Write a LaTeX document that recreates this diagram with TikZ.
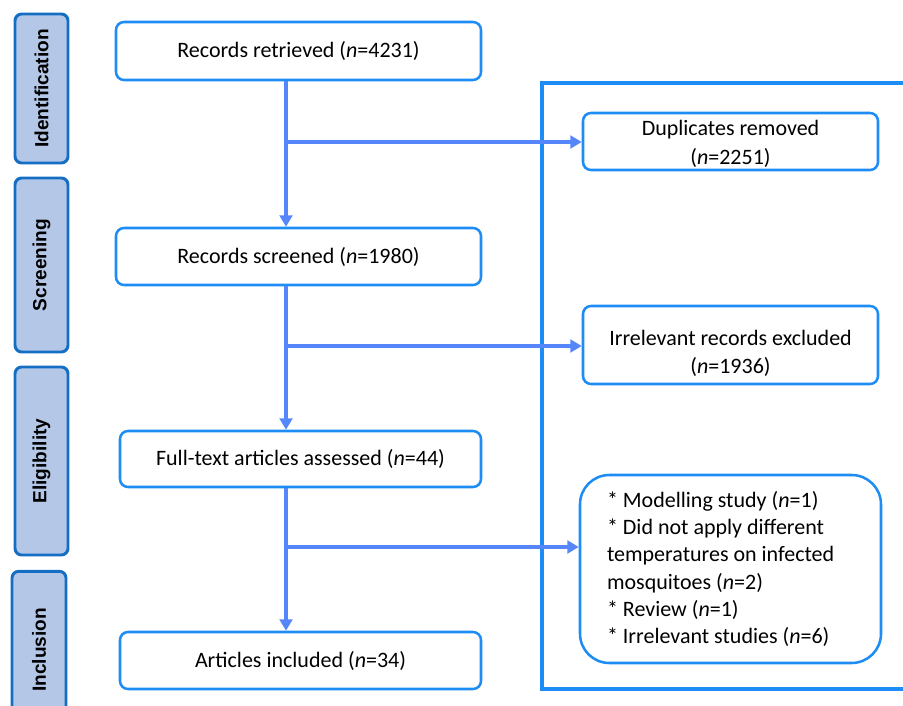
\documentclass[tikz,border=0pt]{standalone}
\usepackage{fontspec}
\setmainfont{Carlito}
\newfontfamily\stagefont{Liberation Sans}
\usetikzlibrary{arrows.meta, positioning}
\definecolor{boxblue}{RGB}{30,140,245}
\definecolor{flowblue}{RGB}{85,135,250}
\definecolor{stageline}{RGB}{20,110,195}
\definecolor{stagefill}{RGB}{180,199,231}

\begin{document}
\begin{tikzpicture}[x=0.75pt, y=-0.75pt,
    >={Triangle[width=9.5pt,length=8.5pt]},
    stagebox/.style={draw=stageline, fill=stagefill, line width=2.2pt,
      rounded corners=5pt, inner sep=0pt, font=\stagefont\bfseries\fontsize{14.3}{16}\selectfont},
    flowbox/.style={draw=boxblue, line width=1.9pt, rounded corners=6pt,
      inner sep=0pt, align=center, font=\fontsize{16.5}{20.5}\selectfont},
    flow/.style={draw=flowblue, line width=2.4pt}]
  \useasboundingbox (0,0) rectangle (903,706);
  \clip (0,0) rectangle (903,706);
  % stages
  \node (ident) at (41.5,88.5) [stagebox, minimum width=39.75pt, minimum height=111.75pt]
    {\rotatebox{90}{Identification}};
  \node (screen) at (41.5,265) [stagebox, minimum width=39.75pt, minimum height=130.5pt]
    {\rotatebox{90}{Screening}};
  \node (elig) at (41.5,461) [stagebox, minimum width=39.75pt, minimum height=141pt]
    {\rotatebox{90}{Eligibility}};
  \node (incl) at (39,650) [stagebox, minimum width=40.5pt, minimum height=118pt]
    {\rotatebox{90}{Inclusion}};
  % outer frame
  \draw [boxblue, line width=3pt] (940,83) -- (542,83) -- (542,689) -- (940,689);
  % main boxes
  \node (ret) at (298.5,51) [flowbox, minimum width=273.75pt, minimum height=43.5pt]
    {Records retrieved (\emph{n}=4231)};
  \node (scr) at (298.5,256.5) [flowbox, minimum width=273.75pt, minimum height=42.75pt]
    {Records screened (\emph{n}=1980)};
  \node (full) at (300.5,459) [flowbox, minimum width=270.75pt, minimum height=42pt]
    {Full-text articles assessed (\emph{n}=44)};
  \node (inc) at (300.5,660.5) [flowbox, minimum width=270.75pt, minimum height=42.75pt]
    {Articles included (\emph{n}=34)};
  % side boxes
  \node (dup) at (730.5,141.5) [flowbox, minimum width=221.25pt, minimum height=42.75pt]
    {\rule{0pt}{15pt}Duplicates removed\\[1.5pt](\emph{n}=2251)};
  \node (irr) at (730.5,345) [flowbox, minimum width=221.25pt, minimum height=58.5pt]
    {\rule{0pt}{24pt}Irrelevant records excluded\\(\emph{n}=1936)};
  \node (excl) at (730.5,569) [flowbox, rounded corners=22pt, align=flush left,
    inner xsep=20.25pt, text width=185.25pt, minimum height=141pt]
    {{*} Modelling study (\emph{n}=1)\\
     {*} Did not apply different\\
     temperatures on infected\\
     mosquitoes (\emph{n}=2)\\
     {*} Review (\emph{n}=1)\\
     {*} Irrelevant studies (\emph{n}=6)};
  % connectors
  \coordinate (spine) at (286,0);
  \coordinate (b1) at (286,142);
  \coordinate (b2) at (286,346);
  \coordinate (b3) at (286,547);
  \draw [flow, ->] (ret.south -| spine) -- (scr.north -| spine);
  \draw [flow, ->] (scr.south -| spine) -- (full.north -| spine);
  \draw [flow, ->] (full.south -| spine) -- (inc.north -| spine);
  \draw [flow, ->] (b1) -- (b1 -| dup.west);
  \draw [flow, ->] (b2) -- (b2 -| irr.west);
  \draw [flow, ->] (b3) -- (b3 -| excl.west);
\end{tikzpicture}
\end{document}
